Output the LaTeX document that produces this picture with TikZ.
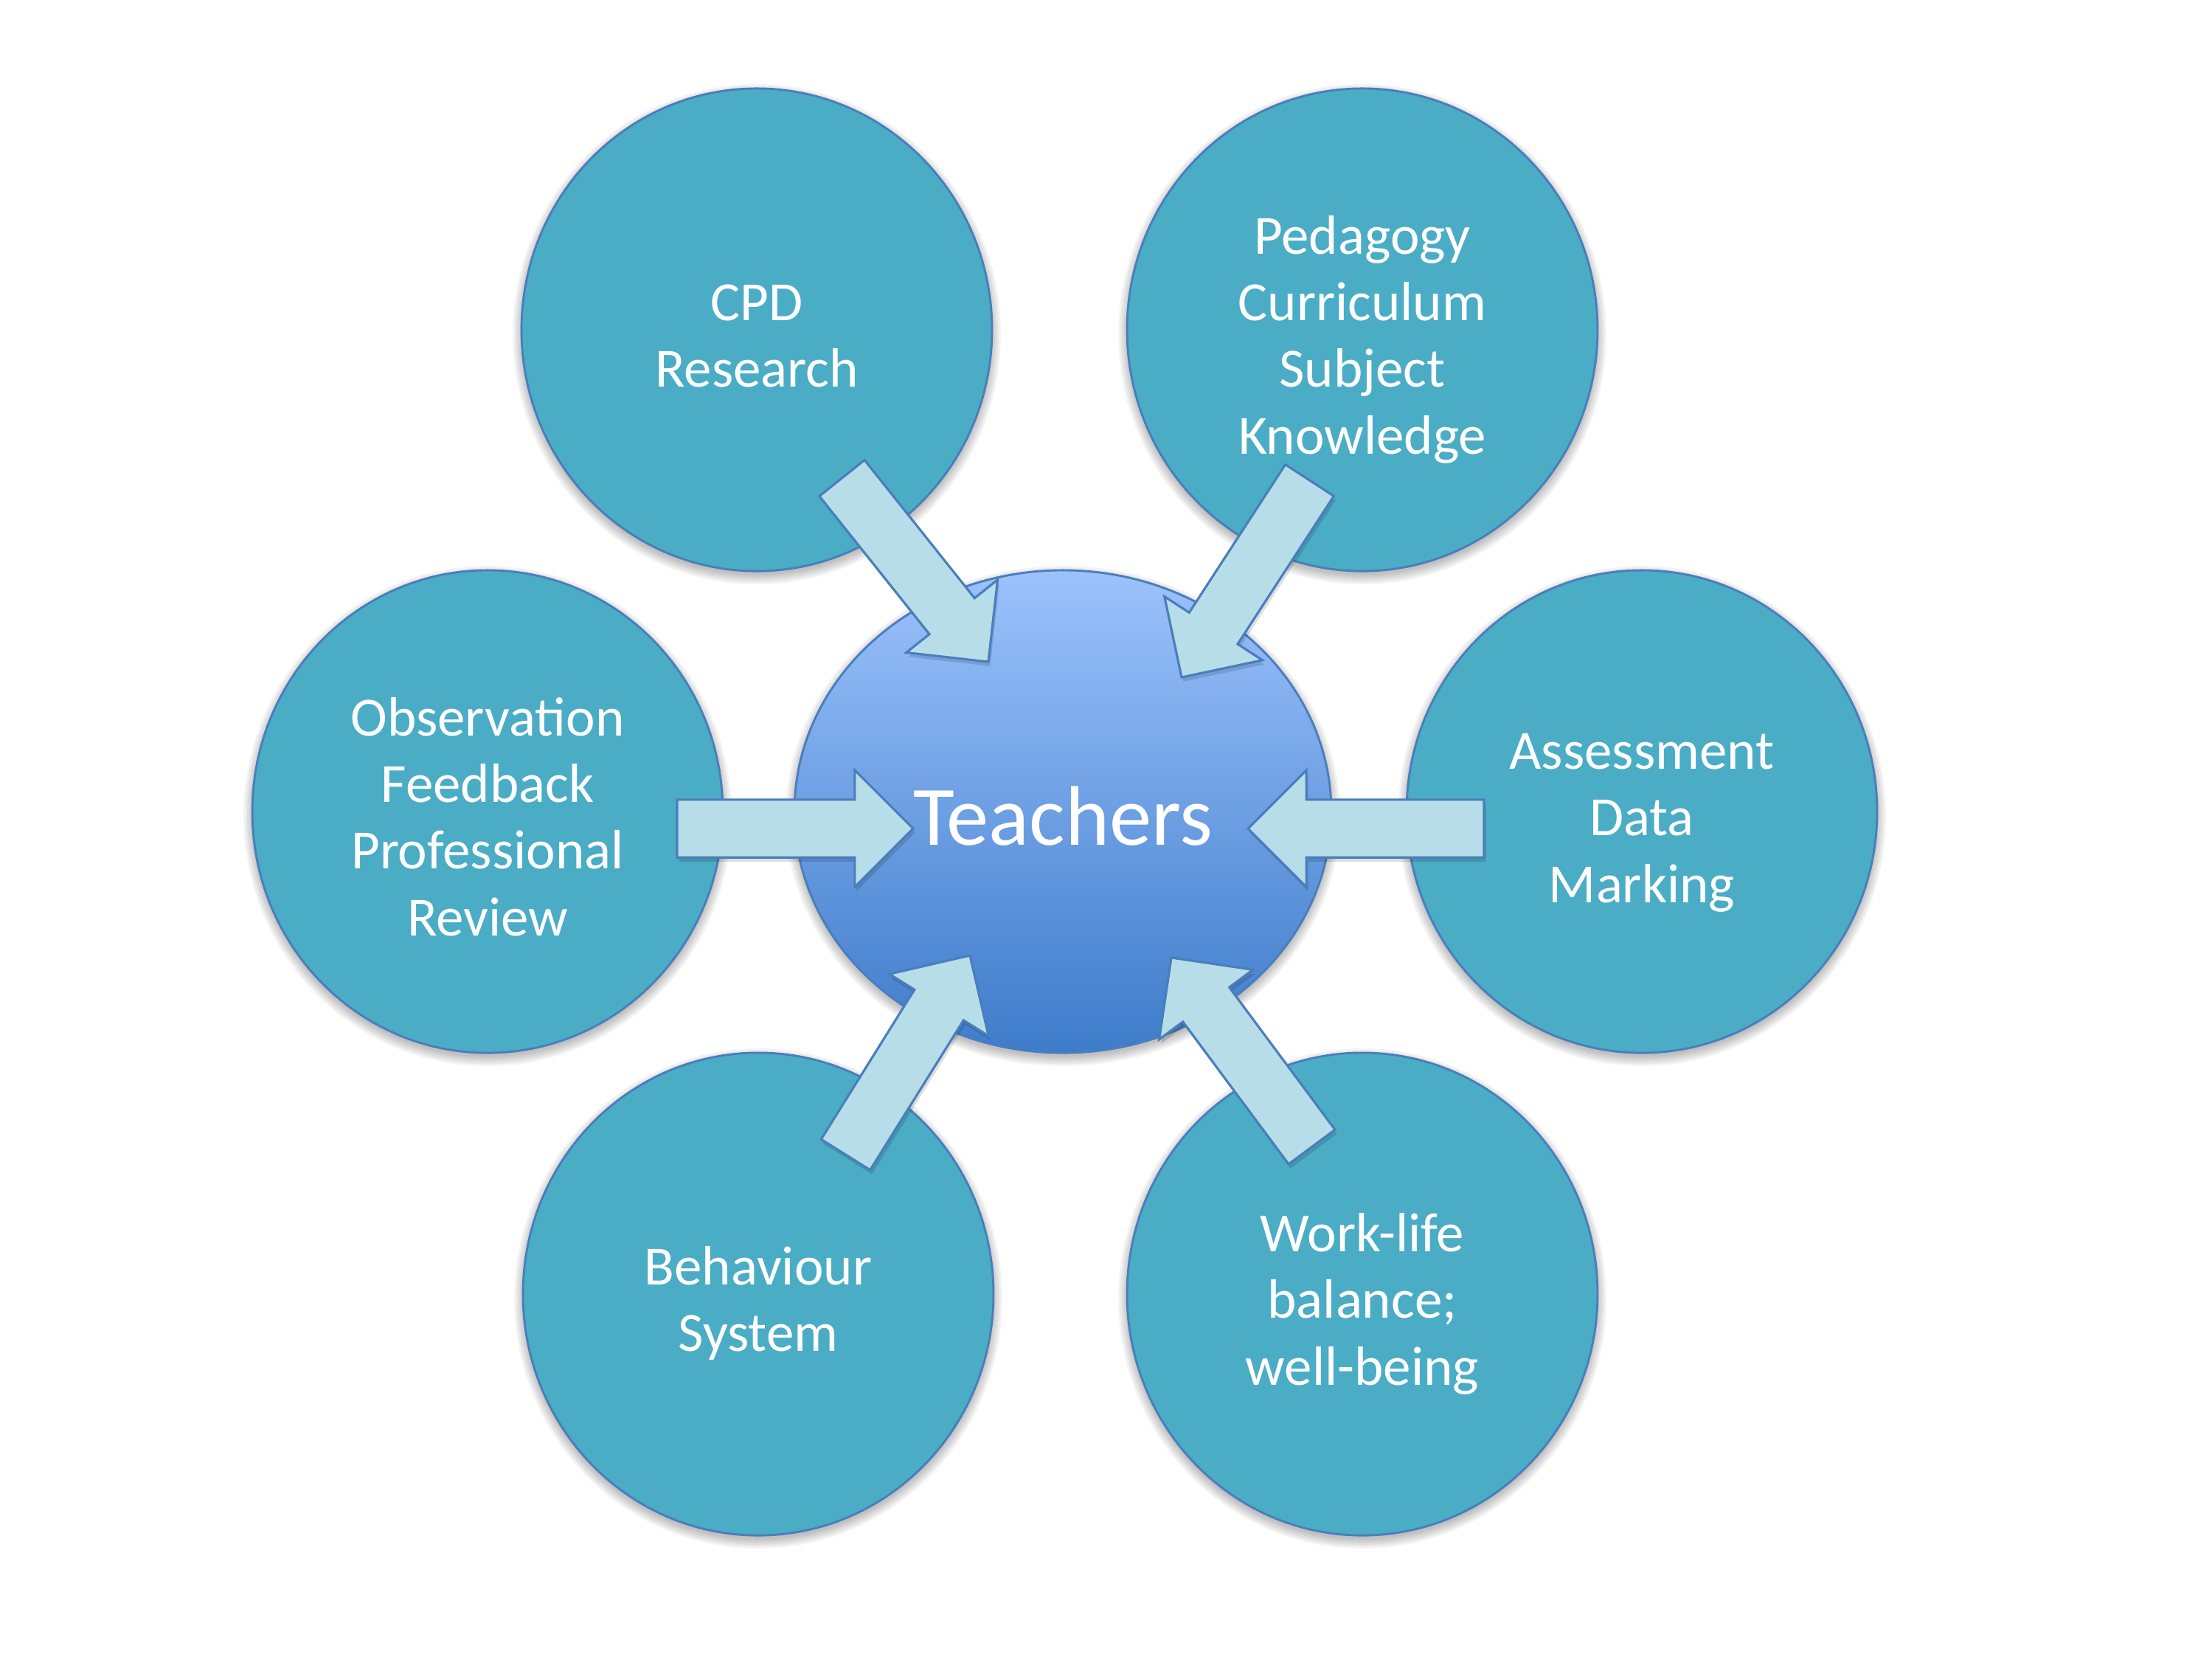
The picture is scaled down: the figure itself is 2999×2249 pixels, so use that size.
\documentclass[tikz,border=0pt]{standalone}
\usepackage{fontspec}
\setmainfont{Carlito}
\usetikzlibrary{shapes.geometric,calc}
\definecolor{circfill}{HTML}{4BACC6}
\definecolor{edgeblue}{HTML}{4A7EBB}
\definecolor{arrowfill}{HTML}{B7DEE8}
\definecolor{teachtop}{HTML}{9CC2FC}
\definecolor{teachbot}{HTML}{3E7CCA}
\newcommand\softshadow[4]{%
  \foreach \k in {1,...,6}{%
    \fill[black,opacity=0.045] (#1,#2+6) ellipse [x radius={(#3-3+2.5*\k)*0.24pt}, y radius={(#4-3+2.5*\k)*0.24pt}];}}
\newcommand\blockarrow[2]{%
  \coordinate (#1J) at ($(#2)!19pt!(#1)$);
  \fill[black,opacity=0.13,transform canvas={shift={(0.6pt,-1.4pt)}}]
    ($(#1)!9.4pt!90:(#2)$) -- ($(#1J)!9.4pt!90:(#2)$) -- ($(#1J)!19pt!90:(#2)$) -- (#2)
    -- ($(#1J)!19pt!-90:(#2)$) -- ($(#1J)!9.4pt!-90:(#2)$) -- ($(#1)!9.4pt!-90:(#2)$) -- cycle;
  \draw[blockstyle]
    ($(#1)!9.4pt!90:(#2)$) -- ($(#1J)!9.4pt!90:(#2)$) -- ($(#1J)!19pt!90:(#2)$) -- (#2)
    -- ($(#1J)!19pt!-90:(#2)$) -- ($(#1J)!9.4pt!-90:(#2)$) -- ($(#1)!9.4pt!-90:(#2)$) -- cycle;}
\newcommand\lowtext[1]{\raisebox{-3.5pt}[\height][\depth]{\begin{tabular}{@{}c@{}}#1\end{tabular}}}
\tikzset{
  outer/.style={ellipse, draw=edgeblue, line width=0.7pt, fill=circfill,
    minimum width=153.1pt, minimum height=157pt, inner sep=0pt,
    text=white, font=\fontsize{18}{21.7}\selectfont},
  centre/.style={ellipse, draw=edgeblue, line width=0.7pt, top color=teachtop,
    bottom color=teachbot, minimum width=174.7pt, minimum height=157pt,
    inner sep=0pt, text=white, font=\fontsize{27.5}{33}\selectfont},
  blockstyle/.style={draw=edgeblue, line width=0.75pt, fill=arrowfill, line join=miter}
}
\begin{document}
\begin{tikzpicture}[x=0.24pt,y=-0.24pt]
\fill[white] (0,0) rectangle (2999,2249);
\useasboundingbox (0,0) rectangle (2999,2249);
% shadows
\softshadow{1026}{447}{319}{327}
\softshadow{1847}{447}{319}{327}
\softshadow{661}{1100}{319}{327}
\softshadow{2226}{1100}{319}{327}
\softshadow{1028}{1754}{319}{327}
\softshadow{1847}{1754}{319}{327}
% outer circles
\node[outer] (cpd) at (1026,447) {\lowtext{CPD\\Research}};
\node[outer] (ped) at (1847,447) {\lowtext{Pedagogy\\Curriculum\\Subject\\Knowledge}};
\node[outer] (obs) at (661,1100) {\lowtext{Observation\\Feedback\\Professional\\Review}};
\node[outer] (ass) at (2226,1100) {\lowtext{Assessment\\Data\\Marking}};
\node[outer] (beh) at (1028,1754) {\lowtext{Behaviour\\System}};
\node[outer] (wlb) at (1847,1754) {\lowtext{Work-life\\balance;\\well-being}};
% centre
\softshadow{1441}{1100}{364}{327}
\node[centre] (tea) at (1441,1100) {\raisebox{-1.5pt}[\height][\depth]{Teachers}};
% arrow end points
\coordinate (cpdT) at (1141.5,648);  \coordinate (cpdP) at (1340,897);
\coordinate (pedT) at (1775.5,651);  \coordinate (pedP) at (1602,918);
\coordinate (obsT) at (918,1123);    \coordinate (obsP) at (1238,1123);
\coordinate (assT) at (2012,1123);   \coordinate (assP) at (1692,1123);
\coordinate (behT) at (1146.5,1565); \coordinate (behP) at (1315,1295);
\coordinate (wlbT) at (1778.5,1554.5); \coordinate (wlbP) at (1588,1298);
\blockarrow{cpdT}{cpdP}
\blockarrow{pedT}{pedP}
\blockarrow{obsT}{obsP}
\blockarrow{assT}{assP}
\blockarrow{behT}{behP}
\blockarrow{wlbT}{wlbP}
\end{tikzpicture}
\end{document}
